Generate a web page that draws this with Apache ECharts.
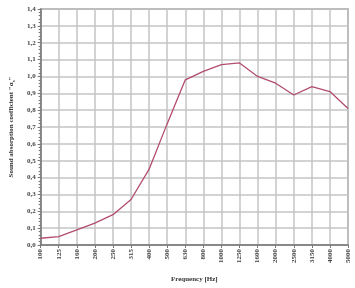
<!DOCTYPE html>
<html><head><meta charset="utf-8">
<script src="https://cdn.jsdelivr.net/npm/echarts@6/dist/echarts.min.js"></script>
<style>html,body{margin:0;padding:0;background:#fff}#c{width:355px;height:288px}</style>
</head><body><div id="c"></div>
<script>
var categories = ['100','125','160','200','250','315','400','500','630','800','1000','1250','1600','2000','2500','3150','4000','5000'];
var absorption = [0.04,0.05,0.09,0.13,0.18,0.27,0.45,0.72,0.98,1.03,1.07,1.08,1.00,0.96,0.89,0.94,0.91,0.81];
var chart = echarts.init(document.getElementById('c'));
var font = 'Liberation Serif';
chart.setOption({
  animation:false,
  grid:{left:36,right:7,top:9,bottom:40,show:true,borderColor:'#8a8a8a',borderWidth:1.5},
  xAxis:{type:'category',data:categories,boundaryGap:false,
    name:'Frequency [Hz]',nameLocation:'middle',nameGap:31,
    nameTextStyle:{fontFamily:font,fontWeight:'bold',fontSize:7,color:'#333'},
    axisLine:{lineStyle:{color:'#777',width:1.5}},
    axisTick:{show:true,length:3,lineStyle:{color:'#777'}},
    axisLabel:{rotate:90,fontFamily:font,fontWeight:'bold',fontSize:7,color:'#444',margin:4,interval:0},
    splitLine:{show:true,lineStyle:{color:'#c4c4c4',width:1.5}}},
  yAxis:{type:'value',min:0,max:1.4,interval:0.1,
    name:'Sound absorption coefficient "α{s|s}"',nameLocation:'middle',nameGap:24,
    nameTextStyle:{fontFamily:font,fontWeight:'bold',fontSize:7,color:'#333',rich:{s:{fontFamily:font,fontWeight:'bold',fontSize:5,color:'#333',verticalAlign:'bottom',padding:[4,0,0,0]}}},
    axisLine:{show:true,lineStyle:{color:'#777',width:1.5}},
    axisTick:{show:true,length:3,lineStyle:{color:'#777'}},
    minorTick:{show:true,splitNumber:5,length:2,lineStyle:{color:'#777'}},
    axisLabel:{fontFamily:font,fontWeight:'bold',fontSize:7,color:'#444',margin:5,
      formatter:function(v){return v.toFixed(1).replace('.',',');}},
    splitLine:{show:true,lineStyle:{color:'#c4c4c4',width:1.5}}},
  series:[{type:'line',data:absorption,symbol:'none',lineStyle:{color:'#b24d6c',width:1.3}}]
});
</script></body></html>
